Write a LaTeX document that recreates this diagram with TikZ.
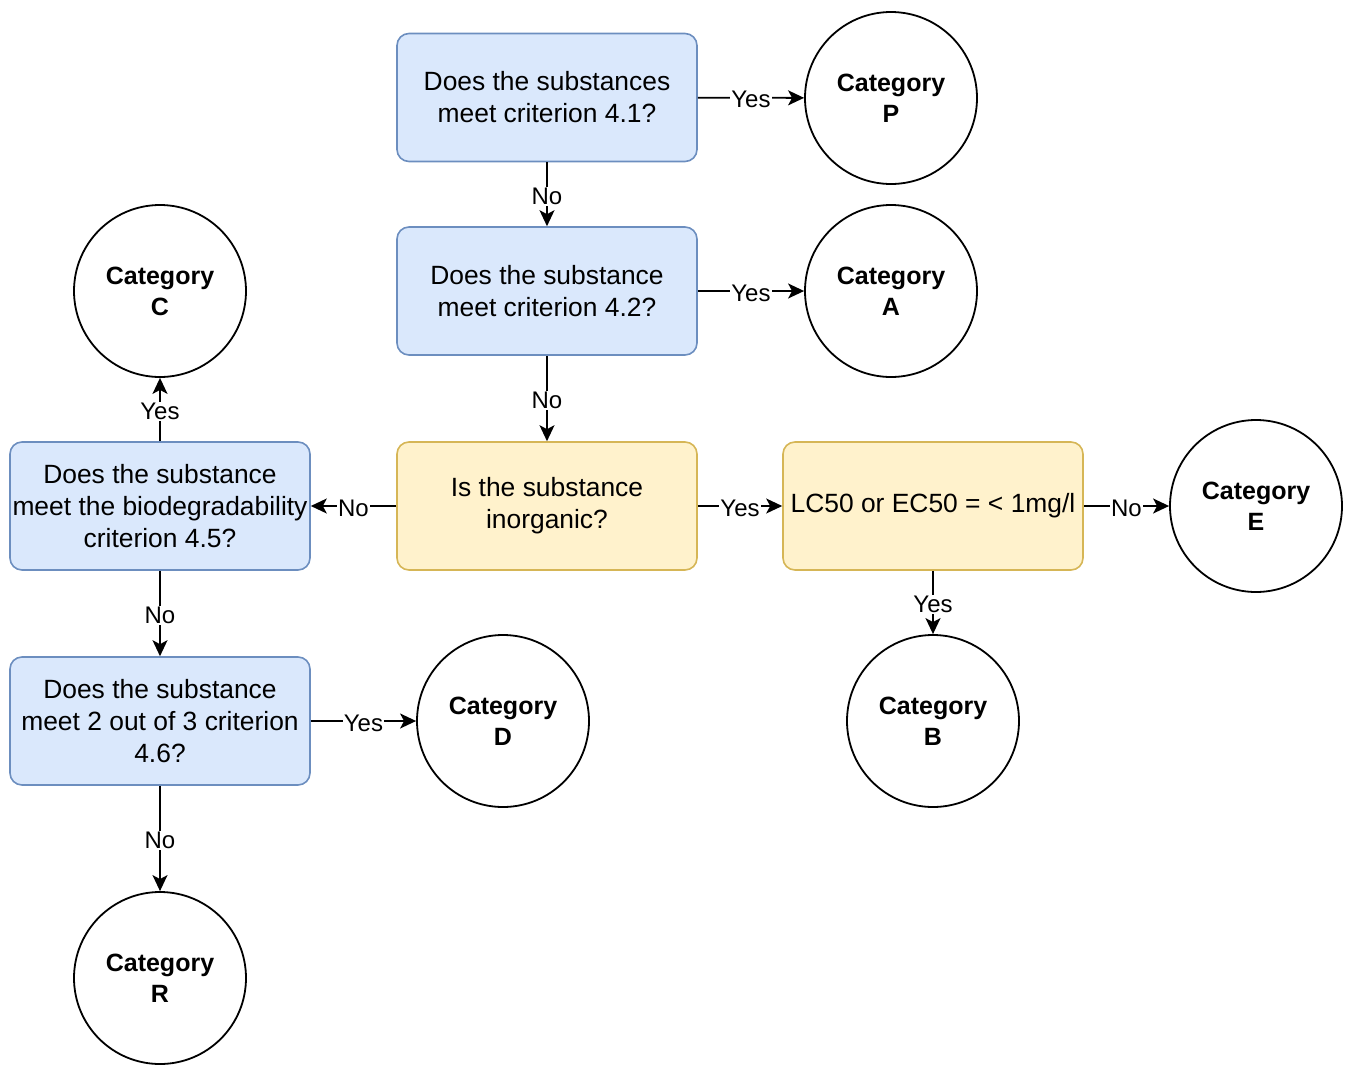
\documentclass[tikz,border=0pt]{standalone}
\usepackage{fontspec}
\setmainfont{Liberation Sans}
\usetikzlibrary{arrows.meta}
\definecolor{bluefill}{HTML}{DAE8FC}
\definecolor{bluedraw}{HTML}{6C8EBF}
\definecolor{yelfill}{HTML}{FFF2CC}
\definecolor{yeldraw}{HTML}{D6B656}
\begin{document}
\begin{tikzpicture}[x=0.5pt,y=-0.5pt,
  qbox/.style={rectangle, rounded corners=6pt, minimum width=150pt, minimum height=64pt,
    inner xsep=1pt, align=center, line width=0.8pt, font=\fontsize{13.2}{16}\selectfont},
  bluebox/.style={qbox, fill=bluefill, draw=bluedraw},
  yelbox/.style={qbox, fill=yelfill, draw=yeldraw},
  cat/.style={circle, draw=black, line width=0.9pt, minimum size=86pt, inner sep=0pt, align=center,
    font=\fontsize{12.5}{15.5}\selectfont\bfseries},
  flow/.style={draw=black, line width=0.9pt, -{Stealth[length=8pt,width=7.5pt,inset=2pt]}},
  lab/.style={fill=white, inner sep=0.5pt, yshift=-1pt, font=\fontsize{12}{14}\selectfont, text=black}
]
\useasboundingbox (0,0) rectangle (1346,1066);
\node[bluebox] (q1) at (547,97.5) {Does the substances\\meet criterion 4.1?};
\node[bluebox] (q2) at (547,291) {Does the substance\\meet criterion 4.2?};
\node[yelbox] (q3) at (547,506) {Is the substance\\inorganic?};
\node[yelbox] (q4) at (933,506) {LC50 or EC50 = < 1mg/l};
\node[bluebox] (q5) at (160,506) {Does the substance\\meet the biodegradability\\criterion 4.5?};
\node[bluebox] (q6) at (160,721) {Does the substance\\meet 2 out of 3 criterion\\4.6?};

\node[cat] (cP) at (891,98) {Category\\P};
\node[cat] (cA) at (891,291) {Category\\A};
\node[cat] (cC) at (160,291) {Category\\C};
\node[cat] (cE) at (1256,506) {Category\\E};
\node[cat] (cB) at (933,721) {Category\\B};
\node[cat] (cD) at (503,721) {Category\\D};
\node[cat] (cR) at (160,978) {Category\\R};

\draw[flow] (q1) -- node[lab] {Yes} (cP);
\draw[flow] (q1) -- node[lab] {No} (q2);
\draw[flow] (q2) -- node[lab] {Yes} (cA);
\draw[flow] (q2) -- node[lab] {No} (q3);
\draw[flow] (q3) -- node[lab] {Yes} (q4);
\draw[flow] (q3) -- node[lab] {No} (q5);
\draw[flow] (q4) -- node[lab] {No} (cE);
\draw[flow] (q4) -- node[lab] {Yes} (cB);
\draw[flow] (q5) -- node[lab] {Yes} (cC);
\draw[flow] (q5) -- node[lab] {No} (q6);
\draw[flow] (q6) -- node[lab] {Yes} (cD);
\draw[flow] (q6) -- node[lab] {No} (cR);
\end{tikzpicture}
\end{document}
